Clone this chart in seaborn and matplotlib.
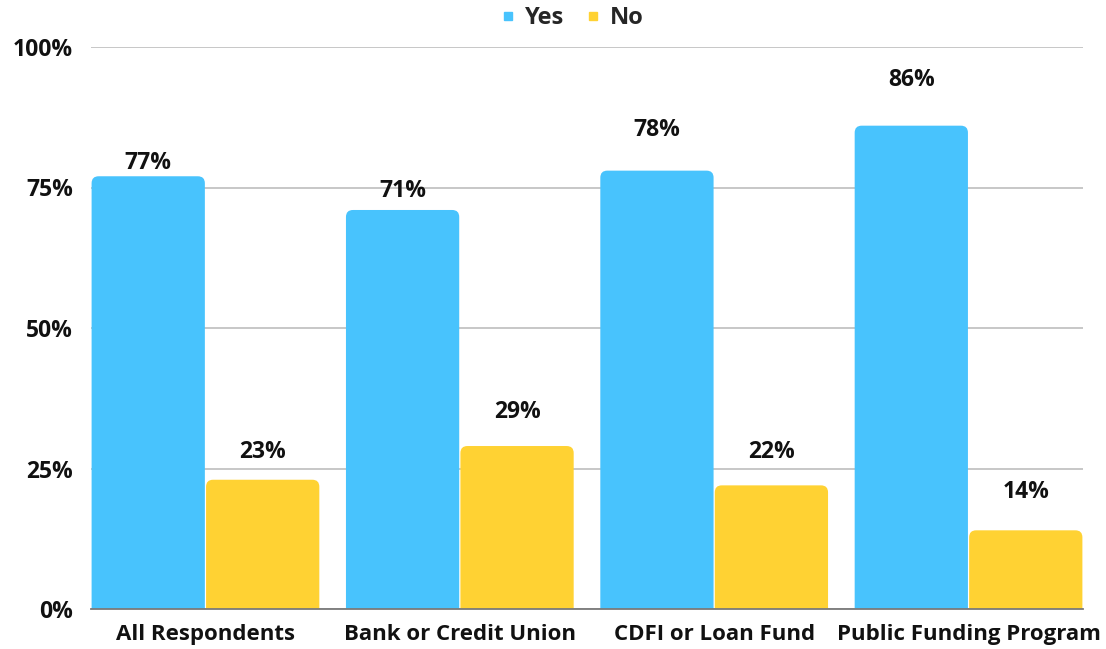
import matplotlib
matplotlib.use("Agg")
import matplotlib.pyplot as plt
from matplotlib.patches import FancyBboxPatch
from matplotlib.lines import Line2D
import seaborn as sns
import pandas as pd

# Survey results by lender type
categories = ["All Respondents", "Bank or Credit Union", "CDFI or Loan Fund", "Public Funding Program"]
yes_values = [77, 71, 78, 86]
no_values = [23, 29, 22, 14]
series_names = ["Yes", "No"]
y_ticks = [0, 25, 50, 75, 100]
y_tick_labels = ["0%", "25%", "50%", "75%", "100%"]

colors = {"Yes": "#48C3FD", "No": "#FFD233"}

# Distance (pixels) from each bar top to the centre of its value label
yes_label_lift = [13, 19, 41, 46]
no_label_lift = [28, 34, 33, 38]

df = pd.DataFrame({
    "category": categories * 2,
    "answer": [series_names[0]] * 4 + [series_names[1]] * 4,
    "value": yes_values + no_values,
})

sns.set_theme(style="white")
plt.rcParams["font.family"] = ["Open Sans", "DejaVu Sans"]
plt.rcParams["font.weight"] = "bold"

fig = plt.figure(figsize=(11.06, 6.49), dpi=100)
W, H = 1106, 649
ax = fig.add_axes([91 / W, (H - 609) / H, (1083 - 91) / W, (609 - 47) / H])

sns.barplot(data=df, x="category", y="value", hue="answer", order=categories,
            hue_order=series_names, palette=colors, width=0.9, gap=0,
            errorbar=None, ax=ax, legend=False, saturation=1)

ax.set_xlim(-0.45, len(categories) - 0.55)
ax.set_ylim(0, 100)

# Replace plain rectangles with bars that have rounded top corners
fig.canvas.draw()
p0 = ax.transData.transform((0, 0))
px_per_x = ax.transData.transform((1, 0))[0] - p0[0]
px_per_y = abs(ax.transData.transform((0, 1))[1] - p0[1])
aspect = px_per_x / px_per_y
radius_px = 7
gap_px = 0.6
bars = list(ax.patches)
bar_info = []
for p in bars:
    x, w, h = p.get_x(), p.get_width(), p.get_height()
    fc = p.get_facecolor()
    p.remove()
    dx = gap_px / px_per_x
    r = radius_px / px_per_x
    extra = radius_px / px_per_y * 2
    box = FancyBboxPatch((x + dx, -extra), w - 2 * dx, h + extra,
                         boxstyle=f"round,pad=0,rounding_size={r}",
                         mutation_aspect=aspect, facecolor=fc, edgecolor="none",
                         zorder=2, clip_on=True)
    ax.add_patch(box)
    bar_info.append((x + w / 2, h))

# Value labels
lifts = yes_label_lift + no_label_lift
for (cx, h), lift in zip(bar_info, lifts):
    ax.annotate(f"{h:.0f}%", (cx, h), xytext=(0, lift), textcoords="offset pixels",
                ha="center", va="center", fontsize=16.5, fontweight="bold", color="#111111")

ax.set_yticks(y_ticks)
ax.set_yticklabels(y_tick_labels)
ax.yaxis.grid(True, color="#BDBDBD", linewidth=1.2, zorder=0)
ax.set_axisbelow(True)
for s in ["top", "right", "left"]:
    ax.spines[s].set_visible(False)
ax.spines["bottom"].set_color("#7A7A7A")
ax.spines["bottom"].set_linewidth(1.3)
ax.spines["bottom"].set_zorder(3)
ax.tick_params(axis="y", length=0, pad=13, labelsize=16.5, labelcolor="#111111")
ax.tick_params(axis="x", length=0, pad=11, labelsize=16, labelcolor="#111111")
for lbl in ax.get_xticklabels() + ax.get_yticklabels():
    lbl.set_fontweight("bold")
ax.set_xlabel("")
ax.set_ylabel("")

handles = [Line2D([], [], marker="s", linestyle="", markersize=6,
                  markerfacecolor=colors[n], markeredgecolor=colors[n]) for n in series_names]
fig.legend(handles, series_names, loc="center", bbox_to_anchor=(573 / W, 1 - 18 / H),
           ncol=2, frameon=False, handlelength=0.5, handletextpad=0.45,
           columnspacing=1.0, prop={"weight": "bold", "size": 17})

fig.savefig("out.png", dpi=100, facecolor="white")
